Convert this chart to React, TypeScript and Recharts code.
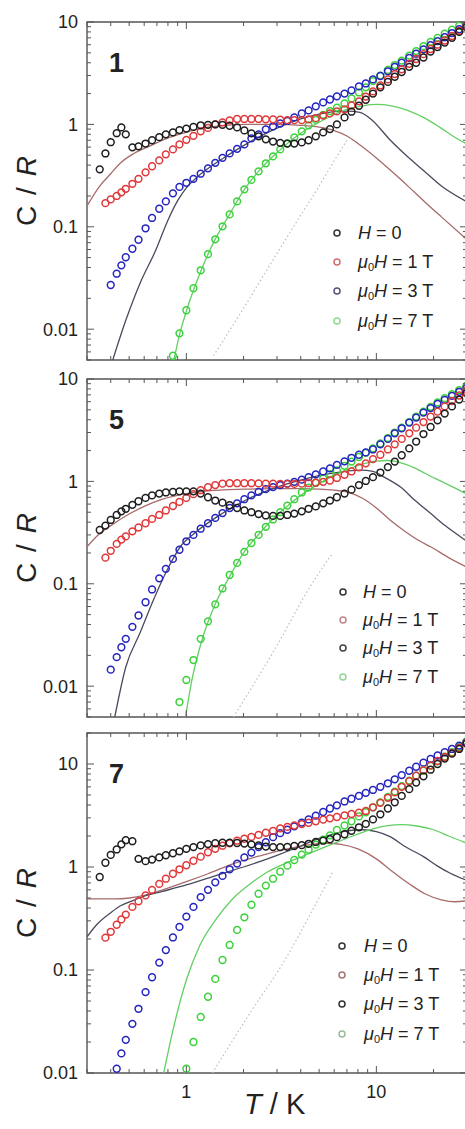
import React from 'react';
import { ComposedChart, Line, Scatter, XAxis, YAxis, ReferenceArea } from 'recharts';

// temperatures (K) at which the markers sit, shared by every data set
const temps = [0.35, 0.375, 0.4, 0.43, 0.455, 0.48, 0.52, 0.56, 0.61, 0.66, 0.72, 0.78, 0.85, 0.92, 1.0, 1.09, 1.19, 1.3, 1.42, 1.55, 1.69, 1.85, 2.02, 2.2, 2.4, 2.62, 2.86, 3.12, 3.4, 3.7, 4.05, 4.4, 4.8, 5.25, 5.7, 6.2, 6.8, 7.4, 8.1, 8.8, 9.6, 10.5, 11.5, 12.5, 13.6, 14.9, 16.2, 17.7, 19.3, 21.0, 22.9, 25.0, 27.3, 29.8];

const n = null;

// compound 1, C/R per field
const p1Zero = [0.364, 0.52, 0.67, 0.82, 0.935, 0.8, 0.597, 0.61, 0.65, 0.7, 0.75, 0.8, 0.835, 0.88, 0.91, 0.945, 0.98, 0.99, 1.0, 0.99, 0.97, 0.935, 0.874, 0.817, 0.764, 0.714, 0.68, 0.66, 0.65, 0.65, 0.667, 0.7, 0.764, 0.835, 0.9, 1.0, 1.17, 1.33, 1.52, 1.74, 2.0, 2.3, 2.6, 2.92, 3.25, 3.65, 4.0, 4.5, 5.15, 5.7, 6.3, 7.0, 8.0, 8.9];
const p1One = [n, 0.17, 0.185, 0.2, 0.217, 0.235, 0.263, 0.294, 0.34, 0.39, 0.445, 0.51, 0.57, 0.638, 0.706, 0.773, 0.855, 0.924, 1.0, 1.046, 1.094, 1.13, 1.13, 1.13, 1.13, 1.12, 1.12, 1.11, 1.1, 1.1, 1.1, 1.12, 1.15, 1.22, 1.28, 1.34, 1.4, 1.53, 1.68, 1.87, 2.1, 2.4, 2.75, 3.1, 3.45, 3.9, 4.35, 4.85, 5.45, 6.0, 6.6, 7.3, 8.2, 9.1];
const p1Three = [n, n, 0.027, 0.0348, 0.042, 0.0504, 0.061, 0.0747, 0.0967, 0.122, 0.15, 0.177, 0.212, 0.245, 0.269, 0.294, 0.33, 0.372, 0.421, 0.471, 0.521, 0.577, 0.638, 0.73, 0.8, 0.894, 0.956, 1.02, 1.08, 1.17, 1.28, 1.37, 1.5, 1.64, 1.75, 1.88, 2.0, 2.15, 2.35, 2.51, 2.75, 2.97, 3.3, 3.65, 4.0, 4.45, 4.9, 5.4, 5.95, 6.5, 7.1, 7.8, 8.5, 9.3];
const p1Seven = [n, n, n, n, n, n, n, n, n, n, n, n, 0.0055, 0.0091, 0.0153, 0.0251, 0.0376, 0.054, 0.0755, 0.101, 0.132, 0.177, 0.232, 0.287, 0.348, 0.417, 0.487, 0.57, 0.653, 0.747, 0.855, 0.978, 1.106, 1.24, 1.35, 1.46, 1.6, 1.79, 2.05, 2.3, 2.65, 3.0, 3.4, 3.8, 4.2, 4.7, 5.2, 5.8, 6.4, 7.0, 7.7, 8.4, 9.2, 10.0];

// compound 5
const p2Zero = [0.335, 0.37, 0.42, 0.47, 0.51, 0.54, 0.59, 0.64, 0.69, 0.73, 0.76, 0.78, 0.79, 0.8, 0.8, 0.8, 0.76, 0.7, 0.65, 0.62, 0.585, 0.55, 0.52, 0.5, 0.48, 0.465, 0.46, 0.46, 0.47, 0.485, 0.51, 0.54, 0.57, 0.61, 0.65, 0.7, 0.76, 0.83, 0.92, 1.01, 1.1, 1.22, 1.38, 1.56, 1.8, 2.1, 2.45, 2.9, 3.4, 3.95, 4.6, 5.4, 6.3, 7.3];
const p2One = [n, 0.18, 0.21, 0.245, 0.27, 0.29, 0.325, 0.355, 0.39, 0.43, 0.47, 0.52, 0.575, 0.63, 0.69, 0.75, 0.82, 0.88, 0.92, 0.95, 0.96, 0.96, 0.96, 0.96, 0.955, 0.95, 0.95, 0.945, 0.945, 0.945, 0.95, 0.96, 0.97, 0.99, 1.02, 1.08, 1.16, 1.25, 1.37, 1.5, 1.65, 1.82, 2.05, 2.3, 2.6, 2.95, 3.35, 3.8, 4.3, 4.8, 5.4, 6.1, 6.9, 7.8];
const p2Three = [n, n, 0.0145, 0.0192, 0.024, 0.029, 0.038, 0.049, 0.066, 0.088, 0.113, 0.14, 0.175, 0.215, 0.26, 0.3, 0.345, 0.39, 0.44, 0.49, 0.55, 0.61, 0.67, 0.73, 0.79, 0.84, 0.88, 0.92, 0.95, 0.99, 1.04, 1.1, 1.17, 1.25, 1.34, 1.45, 1.57, 1.7, 1.82, 1.92, 2.05, 2.3, 2.6, 2.95, 3.3, 3.75, 4.2, 4.7, 5.2, 5.7, 6.25, 6.85, 7.5, 8.2];
const p2Seven = [n, n, n, n, n, n, n, n, n, n, n, n, n, 0.007, 0.0115, 0.018, 0.029, 0.043, 0.063, 0.09, 0.122, 0.16, 0.205, 0.25, 0.3, 0.36, 0.425, 0.5, 0.58, 0.67, 0.78, 0.87, 0.97, 1.07, 1.18, 1.28, 1.42, 1.56, 1.73, 1.9, 2.1, 2.35, 2.65, 3.0, 3.35, 3.8, 4.3, 4.8, 5.35, 5.9, 6.5, 7.1, 7.8, 8.6];

// compound 7
const p3Zero = [0.8, 1.1, 1.31, 1.48, 1.66, 1.82, 1.78, 1.2, 1.14, 1.18, 1.24, 1.3, 1.36, 1.42, 1.5, 1.56, 1.62, 1.67, 1.7, 1.72, 1.72, 1.71, 1.69, 1.66, 1.62, 1.58, 1.56, 1.56, 1.57, 1.6, 1.63, 1.68, 1.75, 1.8, 1.86, 1.95, 2.08, 2.25, 2.43, 2.62, 2.9, 3.25, 3.7, 4.25, 4.9, 5.7, 6.6, 7.6, 8.8, 10.0, 11.3, 12.6, 14.0, 15.8];
const p3One = [n, 0.206, 0.235, 0.275, 0.31, 0.345, 0.41, 0.465, 0.53, 0.6, 0.685, 0.77, 0.86, 0.95, 1.04, 1.15, 1.26, 1.39, 1.5, 1.61, 1.7, 1.8, 1.88, 1.96, 2.05, 2.15, 2.24, 2.37, 2.45, 2.53, 2.61, 2.69, 2.78, 2.88, 2.97, 3.06, 3.17, 3.27, 3.37, 3.5, 3.8, 4.2, 4.7, 5.3, 6.0, 6.8, 7.7, 8.7, 9.7, 10.7, 11.7, 12.8, 14.3, 16.0];
const p3Three = [n, n, n, 0.011, 0.0155, 0.021, 0.03, 0.042, 0.061, 0.085, 0.118, 0.156, 0.207, 0.262, 0.33, 0.41, 0.51, 0.6, 0.71, 0.82, 0.95, 1.08, 1.24, 1.38, 1.56, 1.74, 1.95, 2.13, 2.3, 2.48, 2.7, 2.9, 3.15, 3.42, 3.7, 3.97, 4.33, 4.6, 4.9, 5.25, 5.6, 6.0, 6.5, 7.1, 7.8, 8.6, 9.4, 10.3, 11.2, 12.1, 13.0, 14.0, 15.1, 16.3];
const p3Seven = [n, n, n, n, n, n, n, n, n, n, n, n, n, n, 0.011, 0.02, 0.035, 0.055, 0.082, 0.125, 0.175, 0.245, 0.325, 0.43, 0.55, 0.66, 0.77, 0.9, 1.03, 1.17, 1.32, 1.47, 1.65, 1.84, 2.03, 2.29, 2.53, 2.78, 3.1, 3.4, 3.8, 4.25, 4.8, 5.4, 6.1, 6.9, 7.7, 8.6, 9.6, 10.6, 11.8, 13.0, 14.6, 16.6];

// fitted curves, [T, C/R]
const p1FitBrown = [[0.3, 0.16], [0.35, 0.25], [0.4, 0.33], [0.45, 0.42], [0.53, 0.52], [0.65, 0.62], [0.79, 0.73], [0.96, 0.82], [1.18, 0.91], [1.46, 0.96], [2, 1.0], [3, 1.0], [4, 0.98], [5, 0.94], [6, 0.87], [7, 0.77], [8, 0.65], [10, 0.47], [12, 0.35], [15, 0.24], [18, 0.175], [22, 0.125], [30, 0.075]];
const p1FitDark = [[0.41, 0.005], [0.48, 0.0122], [0.57, 0.028], [0.69, 0.059], [0.8, 0.116], [0.9, 0.18], [1.0, 0.24], [1.15, 0.31], [1.35, 0.39], [1.6, 0.48], [2, 0.62], [2.5, 0.78], [3, 0.92], [4, 1.13], [5, 1.26], [6, 1.33], [7, 1.35], [8.2, 1.31], [9.5, 1.1], [11.85, 0.7], [14, 0.52], [17.7, 0.355], [22, 0.25], [30, 0.175]];
const p1FitGreen = [[0.86, 0.005], [0.92, 0.0088], [1.0, 0.015], [1.2, 0.038], [1.4, 0.072], [1.7, 0.135], [2, 0.225], [2.5, 0.38], [3, 0.53], [3.5, 0.68], [4, 0.82], [5, 1.05], [6, 1.25], [7, 1.4], [8.5, 1.52], [10, 1.57], [12, 1.52], [14.6, 1.37], [18, 1.15], [21.7, 0.93], [25, 0.78], [30, 0.64]];
const p1Lattice = [[1.39, 0.0055], [2, 0.016], [3, 0.055], [4, 0.13], [5, 0.25], [6, 0.44], [7, 0.7]];

const p2FitBrown = [[0.3, 0.23], [0.35, 0.31], [0.4, 0.37], [0.5, 0.48], [0.6, 0.57], [0.75, 0.67], [1.0, 0.76], [1.3, 0.81], [2, 0.84], [3, 0.85], [4, 0.85], [5, 0.84], [6, 0.82], [7, 0.79], [8.5, 0.68], [10, 0.55], [11.8, 0.42], [14, 0.33], [17, 0.26], [19.3, 0.23], [24, 0.18], [30, 0.145]];
const p2FitDark = [[0.42, 0.005], [0.48, 0.0154], [0.57, 0.033], [0.67, 0.069], [0.79, 0.135], [0.93, 0.23], [1.1, 0.31], [1.5, 0.47], [2, 0.64], [3, 0.88], [4, 1.03], [5, 1.14], [6, 1.21], [7, 1.26], [8.2, 1.29], [9.6, 1.25], [11, 1.1], [13.4, 0.88], [16, 0.65], [19.2, 0.49], [23, 0.37], [30, 0.26]];
const p2FitGreen = [[0.99, 0.005], [1.07, 0.0115], [1.2, 0.027], [1.4, 0.06], [1.7, 0.12], [2, 0.2], [2.5, 0.33], [3, 0.47], [3.5, 0.6], [4, 0.73], [5, 0.95], [6, 1.15], [7, 1.3], [8.5, 1.48], [10, 1.58], [11.5, 1.6], [13.5, 1.52], [16, 1.35], [18, 1.2], [22, 1.0], [26, 0.86], [30, 0.75]];
const p2Lattice = [[1.77, 0.005], [3, 0.025], [4.5, 0.095], [5.9, 0.2]];

const p3FitBrown = [[0.3, 0.49], [0.35, 0.49], [0.42, 0.49], [0.5, 0.5], [0.6, 0.53], [0.75, 0.6], [1.0, 0.72], [1.3, 0.86], [1.77, 1.08], [2.5, 1.3], [3.5, 1.52], [4.5, 1.65], [5.5, 1.7], [6.5, 1.66], [8, 1.5], [10, 1.2], [12, 0.92], [15, 0.68], [18, 0.55], [22, 0.48], [26, 0.46], [30, 0.47]];
const p3FitDark = [[0.3, 0.21], [0.34, 0.28], [0.4, 0.36], [0.45, 0.42], [0.52, 0.47], [0.6, 0.52], [0.75, 0.58], [1.0, 0.67], [1.5, 0.85], [2, 1.0], [3, 1.3], [4, 1.6], [5, 1.9], [6, 2.1], [7, 2.25], [8.5, 2.3], [10, 2.2], [11.8, 1.97], [14, 1.6], [17.7, 1.26], [21, 1.02], [24.5, 0.87], [30, 0.74]];
const p3FitGreen = [[0.76, 0.01], [0.86, 0.0285], [1.0, 0.08], [1.18, 0.175], [1.45, 0.32], [1.77, 0.5], [2.2, 0.7], [2.66, 0.89], [3.3, 1.08], [4, 1.25], [5, 1.48], [6, 1.7], [7.5, 2.0], [9.6, 2.35], [11.5, 2.52], [13.5, 2.58], [16.4, 2.5], [20, 2.3], [24, 2.0], [30, 1.7]];
const p3Lattice = [[1.37, 0.01], [2.2, 0.04], [3.3, 0.125], [4.5, 0.35], [5.9, 0.9]];

// axes
const xTicks = [0.3, 0.4, 0.5, 0.6, 0.7, 0.8, 0.9, 1, 2, 3, 4, 5, 6, 7, 8, 9, 10, 20, 30];
const yTicksA = [0.005, 0.006, 0.007, 0.008, 0.009, 0.01, 0.02, 0.03, 0.04, 0.05, 0.06, 0.07, 0.08, 0.09, 0.1, 0.2, 0.3, 0.4, 0.5, 0.6, 0.7, 0.8, 0.9, 1, 2, 3, 4, 5, 6, 7, 8, 9, 10];
const yTicksB = [0.01, 0.02, 0.03, 0.04, 0.05, 0.06, 0.07, 0.08, 0.09, 0.1, 0.2, 0.3, 0.4, 0.5, 0.6, 0.7, 0.8, 0.9, 1, 2, 3, 4, 5, 6, 7, 8, 9, 10, 20];

const MARKER_COLORS = ['#1e1e1e', '#e0383a', '#2424c0', '#3bd23b'];
const FIT_COLORS = ['#a86a6a', '#4a4a5e', '#62cf62', '#bdbdbd'];
const FRAME = '#555';
const FONT = '"Liberation Sans", Arial, Helvetica, sans-serif';

const PLOT_LEFT = 87;
const PLOT_W = 380;
const CHART_W = 480;
const TOP_PAD = 14;
const AXIS_H = 34;

const panels = [
  {
    tag: '1', top: 22, plotH: 338, yDomain: [0.005, 10], yTicks: yTicksA, showX: false,
    series: [p1Zero, p1One, p1Three, p1Seven],
    fits: [p1FitBrown, p1FitDark, p1FitGreen, p1Lattice],
    legendRows: [233, 262, 291, 321], legendX: 337, textX: 358,
    legendColors: ['#333', '#cf6f6f', '#55557e', '#8fd88f'],
  },
  {
    tag: '5', top: 379, plotH: 338, yDomain: [0.005, 10], yTicks: yTicksA, showX: false,
    series: [p2Zero, p2One, p2Three, p2Seven],
    fits: [p2FitBrown, p2FitDark, p2FitGreen, p2Lattice],
    legendRows: [592, 620, 648, 677], legendX: 343, textX: 363,
    legendColors: ['#333', '#c28686', '#444', '#94d494'],
  },
  {
    tag: '7', top: 733, plotH: 340, yDomain: [0.01, 20], yTicks: yTicksB, showX: true,
    series: [p3Zero, p3One, p3Three, p3Seven],
    fits: [p3FitBrown, p3FitDark, p3FitGreen, p3Lattice],
    legendRows: [946, 975, 1004, 1034], legendX: 342, textX: 364,
    legendColors: ['#333', '#a87474', '#333', '#9cbc9c'],
  },
];

const isDecade = (v: number) => Math.abs(Math.log10(v) - Math.round(Math.log10(v))) < 1e-6;

const legendLabels = [
  <span><i>H</i> = 0</span>,
  <span><i>μ</i><sub style={{ fontSize: 11, verticalAlign: -3 }}>0</sub><i>H</i> = 1 T</span>,
  <span><i>μ</i><sub style={{ fontSize: 11, verticalAlign: -3 }}>0</sub><i>H</i> = 3 T</span>,
  <span><i>μ</i><sub style={{ fontSize: 11, verticalAlign: -3 }}>0</sub><i>H</i> = 7 T</span>,
];

function PanelChart({ p }: { p: (typeof panels)[number] }) {
  const renderXTick = (props: any) => {
    const { x, y, payload } = props;
    const v = payload.value;
    const major = isDecade(v);
    const len = major ? 7 : 4;
    return (
      <g>
        <line x1={x} x2={x} y1={y} y2={y - len} stroke={FRAME} strokeWidth={1} />
        <line x1={x} x2={x} y1={y - p.plotH} y2={y - p.plotH + len} stroke={FRAME} strokeWidth={1} />
        {p.showX && major && (
          <text x={x} y={y + 25} textAnchor="middle" fontSize={18} fill="#222" fontFamily={FONT}>{v}</text>
        )}
      </g>
    );
  };

  const renderYTick = (props: any) => {
    const { x, y, payload } = props;
    const v = payload.value;
    const major = isDecade(v);
    const len = major ? 7 : 4;
    return (
      <g>
        <line x1={x} x2={x + len} y1={y} y2={y} stroke={FRAME} strokeWidth={1} />
        <line x1={x + PLOT_W} x2={x + PLOT_W - len} y1={y} y2={y} stroke={FRAME} strokeWidth={1} />
        {major && (
          <text x={x - 9} y={y} dy="0.36em" textAnchor="end" fontSize={18} fill="#222" fontFamily={FONT}>{v}</text>
        )}
      </g>
    );
  };

  const ring = (color: string) => (props: any) => (
    <circle cx={props.cx} cy={props.cy} r={3.4} fill="none" stroke={color} strokeWidth={1.5} />
  );

  const order = [3, 2, 1, 0];

  return (
    <div style={{ position: 'absolute', left: 0, top: p.top - TOP_PAD }}>
      <ComposedChart
        width={CHART_W}
        height={p.plotH + TOP_PAD + AXIS_H}
        margin={{ top: TOP_PAD, right: CHART_W - PLOT_LEFT - PLOT_W, bottom: 0, left: 0 }}
      >
        <XAxis
          type="number"
          dataKey="t"
          scale="log"
          domain={[0.3, 30]}
          allowDataOverflow
          ticks={xTicks}
          interval={0}
          tickLine={false}
          axisLine={false}
          tickSize={0}
          tickMargin={0}
          height={AXIS_H}
          tick={renderXTick}
        />
        <YAxis
          type="number"
          dataKey="c"
          scale="log"
          domain={p.yDomain}
          allowDataOverflow
          ticks={p.yTicks}
          interval={0}
          tickLine={false}
          axisLine={false}
          tickSize={0}
          tickMargin={0}
          width={PLOT_LEFT}
          tick={renderYTick}
        />
        <ReferenceArea
          x1={0.3}
          x2={30}
          y1={p.yDomain[0]}
          y2={p.yDomain[1]}
          fill="none"
          fillOpacity={0}
          stroke={FRAME}
          strokeWidth={1.4}
          strokeOpacity={1}
        />
        {p.fits.map((fit, i) => (
          <Line
            key={`fit-${i}`}
            data={fit.map(([t, c]) => ({ t, c }))}
            dataKey="c"
            type="monotone"
            stroke={FIT_COLORS[i]}
            strokeWidth={i === 3 ? 1.2 : 1.3}
            strokeDasharray={i === 3 ? '1.5 2.5' : undefined}
            dot={false}
            activeDot={false}
            isAnimationActive={false}
          />
        ))}
        {order.map((i) => (
          <Scatter
            key={`s-${i}`}
            data={temps
              .map((t, k) => ({ t, c: p.series[i][k] }))
              .filter((d) => d.c != null)}
            dataKey="c"
            shape={ring(MARKER_COLORS[i])}
            isAnimationActive={false}
          />
        ))}
      </ComposedChart>
    </div>
  );
}

export default function App() {
  return (
    <div
      style={{
        position: 'absolute',
        left: 0,
        top: 0,
        width: 465,
        height: 1129,
        overflow: 'hidden',
        background: '#fff',
        fontFamily: FONT,
        color: '#222',
      }}
    >
      {panels.map((p) => (
        <PanelChart key={p.tag} p={p} />
      ))}

      {panels.map((p) => (
        <div
          key={`tag-${p.tag}`}
          style={{ position: 'absolute', left: 109, top: p.top + 26, fontSize: 27, fontWeight: 700, lineHeight: '30px' }}
        >
          {p.tag}
        </div>
      ))}

      {panels.map((p) => (
        <div
          key={`yl-${p.tag}`}
          style={{
            position: 'absolute',
            left: 27,
            top: p.top + p.plotH / 2,
            transform: 'translate(-50%, -50%) rotate(-90deg)',
            fontSize: 28,
            whiteSpace: 'nowrap',
            wordSpacing: 3,
          }}
        >
          C / <i>R</i>
        </div>
      ))}

      {panels.map((p) =>
        p.legendRows.map((row, i) => (
          <React.Fragment key={`lg-${p.tag}-${i}`}>
            <svg
              width={10}
              height={10}
              style={{ position: 'absolute', left: p.legendX - 5, top: row - 5 }}
            >
              <circle cx={5} cy={5} r={3} fill="none" stroke={p.legendColors[i]} strokeWidth={1.5} />
            </svg>
            <div
              style={{
                position: 'absolute',
                left: p.textX,
                top: row - 11,
                fontSize: 18,
                lineHeight: '22px',
                whiteSpace: 'nowrap',
              }}
            >
              {legendLabels[i]}
            </div>
          </React.Fragment>
        )),
      )}

      <div
        style={{ position: 'absolute', left: 244, top: 1088, fontSize: 29, lineHeight: '32px', whiteSpace: 'nowrap' }}
      >
        <i>T</i> / K
      </div>
    </div>
  );
}
